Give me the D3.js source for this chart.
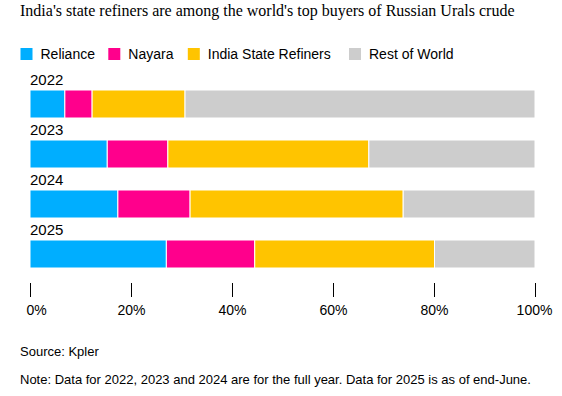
<!DOCTYPE html>
<html>
<head>
<meta charset="utf-8">
<script src="https://cdn.jsdelivr.net/npm/d3@7"></script>
<style>
  body { margin: 0; background: #fff; }
  text { font-family: "Liberation Sans", Arial, sans-serif; fill: #000; }
  .title { font-family: "Liberation Serif", "Times New Roman", serif; font-size: 16px; }
</style>
</head>
<body>
<svg id="chart" width="562" height="396"></svg>
<script>
// data (share of Russian Urals purchases, %)
const years = ["2022", "2023", "2024", "2025"];
const series = ["Reliance", "Nayara", "India State Refiners", "Rest of World"];
const reliance = [6.9, 15.3, 17.4, 27.0];
const nayara = [5.4, 12.0, 14.3, 17.5];
const stateRefiners = [18.4, 39.8, 42.2, 35.6];
const restOfWorld = [69.3, 32.9, 26.1, 19.9];
const tickValues = [0, 20, 40, 60, 80, 100];

const colors = ["#00aeff", "#ff008c", "#ffc400", "#cdcdcd"];

const svg = d3.select("#chart");

// title
svg.append("text")
  .attr("class", "title")
  .attr("x", 20)
  .attr("y", 16)
  .text("India's state refiners are among the world's top buyers of Russian Urals crude");

// legend
const legendX = [20.5, 108.3, 187.8, 349];
const legend = svg.append("g");
series.forEach((s, i) => {
  legend.append("rect")
    .attr("x", legendX[i]).attr("y", 48)
    .attr("width", 12).attr("height", 12)
    .attr("fill", colors[i]);
  legend.append("text")
    .attr("x", legendX[i] + 20).attr("y", 59)
    .style("font-size", "14px")
    .text(s);
});

// scales
const x = d3.scaleLinear().domain([0, 100]).range([30, 535]);
const y = d3.scaleBand().domain(years).range([90, 268]).paddingInner(0.44).paddingOuter(0);

const rows = years.map((yr, i) => ({
  year: yr,
  "Reliance": reliance[i],
  "Nayara": nayara[i],
  "India State Refiners": stateRefiners[i],
  "Rest of World": restOfWorld[i]
}));
const stacked = d3.stack().keys(series)(rows);

// year labels
svg.append("g").selectAll("text")
  .data(years)
  .enter()
  .append("text")
  .attr("x", 30)
  .attr("y", d => y(d) - 5)
  .style("font-size", "15px")
  .text(d => d);

// bars
svg.append("g").selectAll("g")
  .data(stacked)
  .enter()
  .append("g")
  .attr("fill", (d, i) => colors[i])
  .selectAll("rect")
  .data(d => d)
  .enter()
  .append("rect")
  .attr("x", d => x(d[0]))
  .attr("y", d => y(d.data.year))
  .attr("width", d => x(d[1]) - x(d[0]))
  .attr("height", y.bandwidth())
  .attr("stroke", "#fff")
  .attr("stroke-width", 1);

// axis
const axis = svg.append("g")
  .attr("transform", "translate(0,283)")
  .call(d3.axisBottom(x).tickValues(tickValues).tickSize(14).tickFormat(d => d + "%"));
axis.select(".domain").remove();
axis.selectAll(".tick line").attr("stroke", "#000");
axis.selectAll(".tick text")
  .attr("y", 22)
  .attr("dy", "0.71em")
  .style("font-size", "14px")
  .style("font-family", "'Liberation Sans', Arial, sans-serif")
  .attr("fill", "#000");
axis.select(".tick:first-of-type text").attr("dx", 6);
axis.select(".tick:last-of-type text").attr("dx", -1);

// footer
svg.append("text")
  .attr("x", 20).attr("y", 356)
  .style("font-size", "13px")
  .text("Source: Kpler");
svg.append("text")
  .attr("x", 20).attr("y", 384)
  .style("font-size", "13px")
  .text("Note: Data for 2022, 2023 and 2024 are for the full year. Data for 2025 is as of end-June.");
</script>
</body>
</html>
